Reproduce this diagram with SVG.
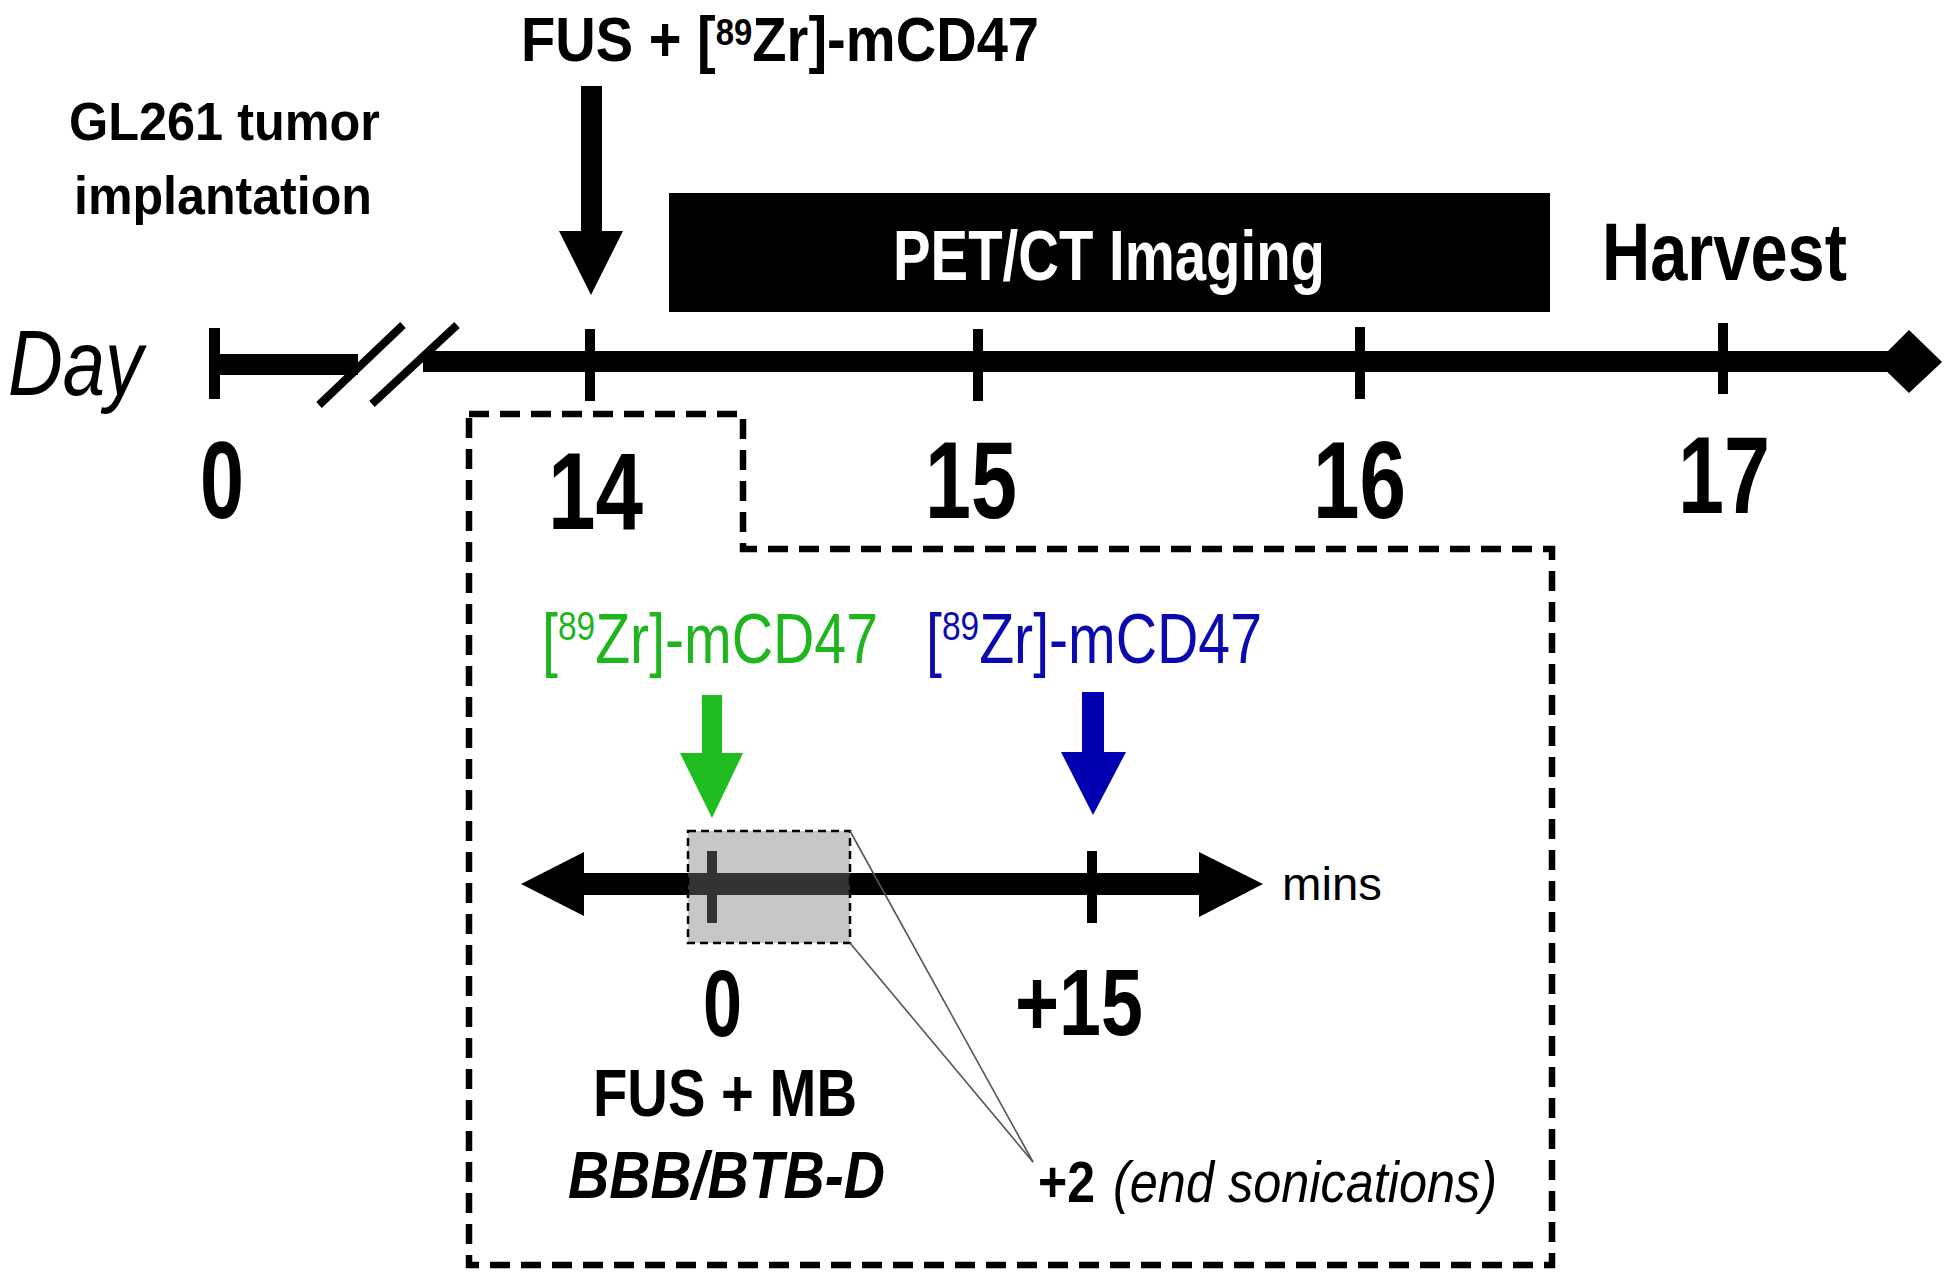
<svg xmlns="http://www.w3.org/2000/svg" width="1950" height="1277" viewBox="0 0 1950 1277">
<style>
text{font-family:"Liberation Sans",Arial,sans-serif;}
.b{font-weight:bold;}
.i{font-style:italic;}
.blk{fill:#000;}
.tick{fill:#000;}
.grn{fill:#1fb51f;}
.blu{fill:#0a0ab0;}
</style>
<rect width="1950" height="1277" fill="#fff"/>

<g id="top-labels">
  <g id="fus-label">
    <text class="b" x="521" y="61" font-size="63" textLength="518" lengthAdjust="spacingAndGlyphs">FUS + [<tspan font-size="37" dy="-16">89</tspan><tspan dy="16">Zr]-mCD47</tspan></text>
  </g>
  <g id="gl261-label">
    <text class="b" x="69" y="140" font-size="53" textLength="311" lengthAdjust="spacingAndGlyphs">GL261 tumor</text>
    <text class="b" x="74" y="214" font-size="53" textLength="298" lengthAdjust="spacingAndGlyphs">implantation</text>
  </g>
  <g id="pet-ct">
    <rect x="669" y="193" width="881" height="119" fill="#000"/>
    <text class="b" x="893" y="280" font-size="70" fill="#fff" textLength="432" lengthAdjust="spacingAndGlyphs">PET/CT Imaging</text>
  </g>
  <g id="harvest">
    <text class="b" x="1602" y="280" font-size="81" textLength="245" lengthAdjust="spacingAndGlyphs">Harvest</text>
  </g>
</g>

<g id="day-axis">
  <text class="i" x="8" y="395" font-size="93" textLength="135" lengthAdjust="spacingAndGlyphs">Day</text>
  <rect x="209" y="328" width="11" height="71" class="tick"/>
  <rect x="215" y="354" width="143" height="21" class="blk"/>
  <line x1="319" y1="405" x2="403" y2="325" stroke="#000" stroke-width="8"/>
  <line x1="372" y1="404" x2="457" y2="325" stroke="#000" stroke-width="8"/>
  <rect x="423" y="351" width="1470" height="21" class="blk"/>
  <polygon points="1877,362 1909,330 1942,362 1909,393" fill="#000"/>
  <rect x="585" y="329" width="10" height="72" class="tick"/>
  <rect x="973" y="329" width="10" height="72" class="tick"/>
  <rect x="1355" y="327" width="10" height="72" class="tick"/>
  <rect x="1718" y="323" width="10" height="71" class="tick"/>
  <text class="b" x="200" y="518" font-size="110" textLength="44" lengthAdjust="spacingAndGlyphs">0</text>
  <text class="b" x="548" y="529" font-size="110" textLength="95" lengthAdjust="spacingAndGlyphs">14</text>
  <text class="b" x="925" y="518" font-size="110" textLength="92" lengthAdjust="spacingAndGlyphs">15</text>
  <text class="b" x="1313" y="518" font-size="110" textLength="93" lengthAdjust="spacingAndGlyphs">16</text>
  <text class="b" x="1678" y="513" font-size="110" textLength="92" lengthAdjust="spacingAndGlyphs">17</text>
</g>

<g id="detail-box">
  <path d="M469,414 H743 V549 H1552 V1265 H469 Z" fill="none" stroke="#000" stroke-width="6.5" stroke-dasharray="20 11"/>
</g>

<g id="inset-axis">
  <rect x="584" y="873" width="615" height="22" class="blk"/>
  <polygon points="521,884 584,852 584,916" fill="#000"/>
  <polygon points="1263,884 1199,852 1199,917" fill="#000"/>
  <rect x="707" y="851" width="10" height="72" class="tick"/>
  <rect x="1087" y="851" width="10" height="72" class="tick"/>
  <text x="1282" y="900" font-size="46" textLength="100" lengthAdjust="spacingAndGlyphs">mins</text>
</g>

<g id="sonication-window">
  <rect x="688" y="831" width="162" height="112" fill="#7a7a7a" fill-opacity="0.42" stroke="#000" stroke-width="2.5" stroke-dasharray="8 5"/>
</g>

<g id="green-label">
  <text class="grn" x="542" y="663" font-size="70" textLength="336" lengthAdjust="spacingAndGlyphs">[<tspan font-size="41" dy="-23">89</tspan><tspan dy="23">Zr]-mCD47</tspan></text>
</g>

<g id="blue-label">
  <text class="blu" x="926" y="663" font-size="70" textLength="336" lengthAdjust="spacingAndGlyphs">[<tspan font-size="41" dy="-23">89</tspan><tspan dy="23">Zr]-mCD47</tspan></text>
</g>

<g id="time-0">
  <text class="b" x="703" y="1036" font-size="95" textLength="39" lengthAdjust="spacingAndGlyphs">0</text>
  <text class="b" x="593" y="1116" font-size="67" textLength="264" lengthAdjust="spacingAndGlyphs">FUS + MB</text>
  <text class="b i" x="568" y="1198" font-size="67" textLength="317" lengthAdjust="spacingAndGlyphs">BBB/BTB-D</text>
</g>

<g id="time-15">
  <text class="b" x="1015" y="1035" font-size="95" textLength="128" lengthAdjust="spacingAndGlyphs">+15</text>
</g>

<g id="end-sonications">
  <text class="b" x="1038" y="1202" font-size="58" textLength="57" lengthAdjust="spacingAndGlyphs">+2</text>
  <text class="i" x="1113" y="1202" font-size="58" textLength="384" lengthAdjust="spacingAndGlyphs">(end sonications)</text>
</g>

<g id="connectors">
  <g id="fus-arrow">
    <rect x="581" y="86" width="21" height="146" fill="#000"/>
    <polygon points="559,231 623,231 591,295" fill="#000"/>
  </g>
  <g id="green-arrow">
    <rect x="702" y="695" width="20" height="59" fill="#1fbd1f"/>
    <polygon points="680,753 743,753 712,818" fill="#1fbd1f"/>
  </g>
  <g id="blue-arrow">
    <rect x="1082" y="692" width="22" height="61" fill="#0000b0"/>
    <polygon points="1061,752 1126,752 1093,815" fill="#0000b0"/>
  </g>
  <g id="zoom-lines" stroke="#555" stroke-width="1.6" fill="none">
    <line x1="850" y1="831" x2="1033" y2="1162"/>
    <line x1="850" y1="943" x2="1033" y2="1162"/>
  </g>
</g>
</svg>
